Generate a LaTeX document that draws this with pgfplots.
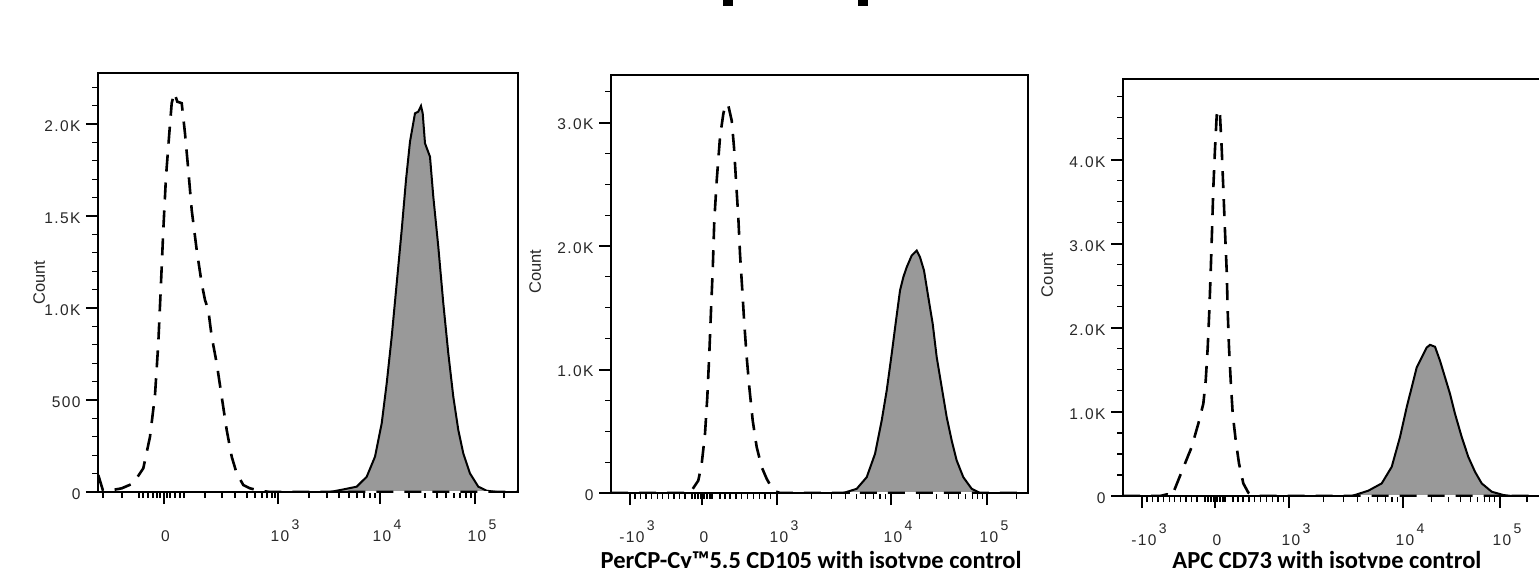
\documentclass[border=0pt]{standalone}
\usepackage{pgfplots}
\pgfplotsset{compat=1.18}
\usepackage{fontspec}
\setmainfont{Liberation Sans}
\newfontfamily\tickfont[LetterSpace=9]{Liberation Sans}
\newfontfamily\labfont{Carlito}
\definecolor{fillgray}{RGB}{153,153,153}
\definecolor{txtgray}{RGB}{40,40,40}

\newcommand{\tf}{\tickfont\fontsize{15.5bp}{17bp}\selectfont\color{txtgray}}
\newcommand{\pw}[1]{10\rlap{\raisebox{12bp}{\fontsize{14bp}{16bp}\selectfont\,#1}}}
\newcommand{\npw}[1]{-10\rlap{\raisebox{12bp}{\fontsize{14bp}{16bp}\selectfont\,#1}}}

\pgfplotsset{
  flow/.style={
    scale only axis,
    axis line style={line width=1.3bp, black},
    tick pos=left,
    tick align=outside,
    major tick length=12bp,
    minor tick length=6bp,
    every major tick/.style={line width=2bp, black},
    every minor tick/.style={line width=1.1bp, black},
    ymin=0,
    ticklabel style={font=\tf},
    xticklabel style={anchor=base, yshift=-37bp, xshift=2bp},
    yticklabel style={anchor=east, xshift=-2bp, yshift=-2bp},
    ylabel={Count},
    ylabel style={font=\fontsize{16.5bp}{18bp}\selectfont\color{txtgray}, anchor=center},
    xlabel style={font=\labfont\bfseries\fontsize{24.5bp}{28bp}\selectfont, anchor=base},
  },
  iso/.style={black, line width=2.6bp, dash pattern=on 17bp off 11bp},
  samp/.style={draw=black, line width=2bp, fill=fillgray},
}

\begin{document}
\begin{tikzpicture}
\useasboundingbox (0,0) rectangle (1539bp,-568bp);
% fragments of a cropped title
\fill[black] (723bp,0bp) rectangle (733bp,-6bp);
\fill[black] (858bp,0bp) rectangle (868bp,-6bp);

% ---------------- Panel 1 ----------------
\begin{axis}[flow,
  at={(98bp,-492bp)}, anchor=south west,
  width=420bp, height=419bp,
  xmin=98, xmax=518, ymax=2277,
  xtick={163.5,278,380,475},
  xticklabels={0,\pw{3},\pw{4},\pw{5}},
  minor xtick={103,122,139,143,148,153,157,160,167,170,175,180,184,205,222,235,247,255,262,267,272,275,309,327,339,349,357,364,370,375,409,425,437,446,454,460,466,471,504},
  ytick={0,500,1000,1500,2000},
  yticklabels={0,500,1.0K,1.5K,2.0K},
  minor ytick={100,200,300,400,600,700,800,900,1100,1200,1300,1400,1600,1700,1800,1900,2100,2200},
  ylabel style={at={(axis description cs:-0.14,0.5)}},
]
\addplot[samp] coordinates {
(330,0) (343.3,14) (356.7,29) (366.7,83) (375,192) (381.7,373) (386.7,591) (391.7,844) (396.7,1134) (401.7,1424) (406,1696) (410,1904) (415,2058) (418.3,2067) (421,2098) (422.7,2058) (425,1895) (430,1822) (433.3,1605) (438.3,1333) (443.3,1026) (448.3,754) (453.3,518) (458.3,337) (463.3,210) (470,101) (478.3,29) (486.7,7) (496.7,0)
} \closedcycle;
\addplot[white, line width=1.4bp] coordinates {(350,0) (490,0)};
\addplot[iso] coordinates {
(98.3,92) (103,7) (110,8) (121.7,20) (133.3,47) (143.3,129) (150,300) (155,527) (158.3,808) (160.7,1098) (163.3,1424) (166,1714) (169.3,1949) (171.7,2113) (174.3,2170) (177.3,2121) (181.7,2113) (185,1949) (188.3,1750) (191.7,1533) (196.7,1315) (201.7,1134) (205,1043) (208.3,989) (211.7,844) (216.7,700) (221.7,518) (226.7,337) (231.7,192) (236.7,101) (243.3,38) (250,20) (260,7) (270,0) (518,0)
};
\end{axis}

% ---------------- Panel 2 ----------------
\begin{axis}[flow,
  at={(611bp,-493bp)}, anchor=south west,
  width=417bp, height=418bp,
  xmin=611, xmax=1028, ymax=3385,
  xtick={630,702,777,891,987},
  xticklabels={\npw{3},0,\pw{3},\pw{4},\pw{5}},
  minor xtick={635,640.7,646,651.7,657.3,662.7,668.3,674,679.3,685,692,695,698,701,704,707,710,712,720,725,730,736,741.7,747.7,753.3,759.3,765,770.7,811.3,831.4,845.6,856.7,865.7,873.3,880,885.8,919.9,936.8,948.8,958.1,965.7,972.1,977.7,982.6,1016.7},
  ytick={0,1000,2000,3000},
  yticklabels={0,1.0K,2.0K,3.0K},
  minor ytick={250,500,750,1250,1500,1750,2250,2500,2750,3250},
  ylabel style={at={(axis description cs:-0.182,0.529)}},
  xlabel={PerCP-Cy™5.5 CD105 with isotype control},
  xlabel style={at={(axis description cs:0.48,0)}, yshift=-75bp},
]
\addplot[samp] coordinates {
(830,0) (843.3,0) (856.7,34) (866.7,128) (875,317) (881.7,587) (886.7,830) (891.7,1127) (896,1397) (900,1640) (903.3,1748) (906.7,1829) (911.7,1923) (916.7,1964) (920,1910) (924,1802) (928.3,1586) (932.7,1370) (936.7,1100) (941.7,857) (946.7,614) (951.7,425) (956.7,263) (963.3,128) (971.7,34) (980,0)
} \closedcycle;
\addplot[white, line width=1.4bp] coordinates {(850,0) (975,0)};
\addplot[iso] coordinates {
(611,0) (690,0) (698.3,101) (701.7,236) (705,479) (707.3,776) (709.3,1127) (711,1478) (712.7,1802) (714.3,2207) (716.7,2530) (720,2881) (723.3,3070) (725.7,3151) (728.3,3138) (731.7,3016) (734,2800) (736,2530) (738.3,2233) (740,1937) (742.3,1640) (744.3,1370) (746.7,1100) (749.3,857) (752.7,587) (756.7,371) (761.7,209) (766.7,115) (773.3,20) (780,0) (1028,0)
};
\end{axis}

% ---------------- Panel 3 ----------------
\begin{axis}[flow,
  at={(1123bp,-496bp)}, anchor=south west,
  width=417bp, height=417bp,
  xmin=1123, xmax=1540, ymax=4960,
  xtick={1142,1215,1289,1403,1500},
  xticklabels={\npw{3},0,\pw{3},\pw{4},\pw{5}},
  minor xtick={1147,1152.7,1158,1163.7,1169.3,1174.7,1180.3,1186,1191.3,1197,1205,1208,1211,1214,1217,1220,1223,1225,1233,1238,1243,1249,1254.7,1260.7,1266.3,1272.3,1278,1283.7,1323.3,1343.4,1357.6,1368.7,1377.7,1385.3,1392,1397.8,1431.9,1448.8,1460.8,1470.1,1477.7,1484.1,1489.7,1494.6,1527},
  ytick={0,1000,2000,3000,4000},
  yticklabels={0,1.0K,2.0K,3.0K,4.0K},
  minor ytick={250,500,750,1250,1500,1750,2250,2500,2750,3250,3500,3750,4250,4500,4750},
  ylabel style={at={(axis description cs:-0.182,0.53)}},
  xlabel={APC CD73 with isotype control},
  xlabel style={at={(axis description cs:0.489,0)}, yshift=-72bp},
]
\addplot[samp] coordinates {
(1340,0) (1351.7,0) (1368.3,63) (1381.7,150) (1391.7,347) (1400,702) (1406.7,1057) (1411.7,1293) (1416.7,1530) (1421.7,1648) (1426.7,1766) (1430,1798) (1435,1775) (1440,1609) (1445,1412) (1450,1215) (1455,978) (1461.7,702) (1468.3,465) (1475,288) (1481.7,150) (1491.7,51) (1503.3,12) (1511.7,0)
} \closedcycle;
\addplot[white, line width=1.4bp] coordinates {(1360,0) (1500,0)};
\addplot[iso] coordinates {
(1123,0) (1160,0) (1167,20) (1172,0) (1178.3,189) (1185,387) (1191.7,584) (1198.3,860) (1203.3,1097) (1205.7,1372) (1207.7,1766) (1209.3,2200) (1210.7,2674) (1212,3147) (1213.3,3659) (1215,4132) (1216.7,4527) (1218.3,4598) (1220,4527) (1221.7,4132) (1223.3,3659) (1225,3147) (1226.7,2674) (1227.7,2200) (1229,1766) (1230.7,1372) (1232.7,978) (1235.7,663) (1239,387) (1243.3,150) (1248.3,40) (1255,0) (1540,0)
};
\end{axis}
\end{tikzpicture}
\end{document}
